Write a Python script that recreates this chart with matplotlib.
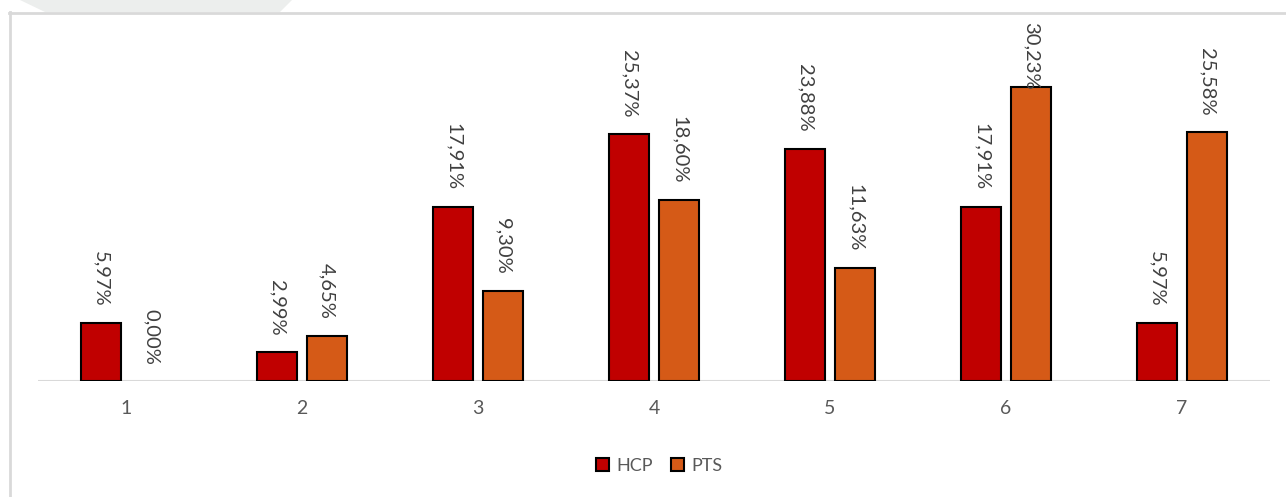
import matplotlib
matplotlib.use("Agg")
import matplotlib.pyplot as plt
from matplotlib.patches import Polygon, Patch
from matplotlib.lines import Line2D
import numpy as np

categories = ["1", "2", "3", "4", "5", "6", "7"]
hcp = [5.97, 2.99, 17.91, 25.37, 23.88, 17.91, 5.97]
pts = [0.00, 4.65, 9.30, 18.60, 11.63, 30.23, 25.58]
series_names = ["HCP", "PTS"]
colors = ["#c00000", "#d55a17"]

W, H = 1286, 497
fig = plt.figure(figsize=(W / 100, H / 100), dpi=100)
plt.rcParams["font.family"] = ["Lato", "DejaVu Sans"]
text_color = "#595959"

# faint page shape above the chart frame
fig.patches.append(Polygon([(20 / W, 1.0), (292 / W, 1.0), (280 / W, 1 - 12 / H), (45 / W, 1 - 12 / H)],
                           closed=True, transform=fig.transFigure, facecolor="#eceeed",
                           edgecolor="none", zorder=0))
# chart frame (left and top edges)
fig.add_artist(Line2D([9.5 / W, 9.5 / W], [0, 1 - 12 / H], transform=fig.transFigure,
                      color="#d9d9d9", lw=2))
fig.add_artist(Line2D([9 / W, 1.0], [1 - 12.5 / H, 1 - 12.5 / H], transform=fig.transFigure,
                      color="#d9d9d9", lw=2))

ax = fig.add_axes([38 / W, 116 / H, 1232 / W, (381 - 20) / H])
x = np.arange(1, len(categories) + 1)
bw = 40 / 176
off = 25 / 176
ymax = 37.1
ax.set_xlim(0.5, len(categories) + 0.5)
ax.set_ylim(0, ymax)

label_gap = 1.7   # space between bar top and its label, data units
label_len = 7.2   # approximate label length, data units
for vals, sign, c in [(hcp, -1, colors[0]), (pts, 1, colors[1])]:
    pos = x + sign * off
    lw = [1.5 if v > 0 else 0 for v in vals]
    ax.bar(pos, vals, width=bw, color=c, edgecolor="black", linewidth=lw, zorder=3)
    for px, v in zip(pos, vals):
        yb = min(v + label_gap, ymax - label_len)
        ax.text(px, yb, f"{v:.2f}%".replace(".", ","), rotation=270, ha="center", va="bottom",
                fontsize=14.5, color="#404040", zorder=4)

ax.axhline(0, color="#d9d9d9", lw=1.5, zorder=2)
for s in ax.spines.values():
    s.set_visible(False)
ax.set_yticks([])
ax.set_xticks(x)
ax.set_xticklabels(categories, fontsize=14, color=text_color)
ax.tick_params(axis="x", length=0, pad=14)

handles = [Patch(facecolor=c, edgecolor="black", linewidth=1.5) for c in colors]
fig.legend(handles, series_names, loc="center", bbox_to_anchor=(659 / W, 31 / H), ncol=2,
           frameon=False, fontsize=13, handlelength=0.72, handleheight=0.72,
           handletextpad=0.4, columnspacing=1.0, labelcolor=text_color)

fig.savefig("out.png", dpi=100, facecolor="white")
